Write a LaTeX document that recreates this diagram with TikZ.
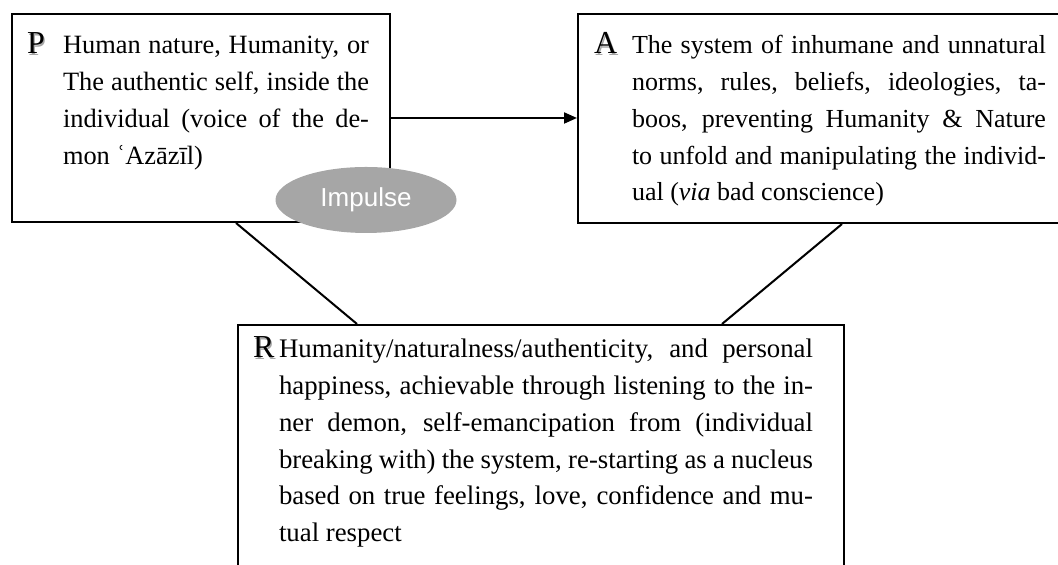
\documentclass[tikz,border=0pt]{standalone}
\usepackage{fontspec}
\setmainfont{Liberation Serif}
\setsansfont{Liberation Sans}
\usetikzlibrary{arrows.meta,shapes.geometric}
\definecolor{impulsegray}{RGB}{166,166,166}
\definecolor{shadowgray}{RGB}{165,165,165}
\tolerance=10000

% big initial with a soft drop shadow
\newcommand\boxinitial[1]{{\fontsize{16pt}{16pt}\selectfont\rlap{\kern0.7pt\lower0.7pt\hbox{\color{shadowgray}#1}}#1}}
% #1 initial, #2 indent of the body, #3 right gap, #4 body
\newcommand\lettered[4]{\hangindent=#2\hangafter=0\rightskip=#3\relax\noindent\llap{\makebox[#2][l]{\boxinitial{#1}}}#4\par}

\begin{document}
\begin{tikzpicture}[x=1pt,y=1pt,line width=1pt,
  textbox/.style={draw,rectangle,anchor=north west,align=justify,inner xsep=#1,inner ysep=0pt},
  bodyfont/.style={font=\fontsize{#1}{18.35pt}\selectfont}]
  \useasboundingbox (0,0) rectangle (529,282.5);
  %\draw[red] (0,0) rectangle (529,282.5);
  \node[textbox=7.5pt,text width=174pt,text height=20pt,text depth=84pt,bodyfont=13.2pt] (P) at (5.5,276)
    {\lettered{P}{18pt}{3pt}{Human nature, Humanity, or\linebreak The authentic self, inside the\linebreak individual (voice of the de-\linebreak mon ʿAzāzīl)}};
  \node[textbox=8pt,text width=230pt,text height=20pt,text depth=84.5pt,bodyfont=13pt] (A) at (288.5,276)
    {\lettered{A}{19pt}{4pt}{The system of inhumane and unnatural\linebreak norms, rules, beliefs, ideologies, ta-\linebreak boos, preventing Humanity \& Nature\linebreak to unfold and manipulating the individ-\linebreak ual (\textit{via} bad conscience)}};
  \node[textbox=7.5pt,text width=288pt,text height=16.5pt,text depth=110pt,bodyfont=13.4pt] (R) at (118.5,120.5)
    {\lettered{R}{13pt}{8pt}{Humanity/naturalness/authenticity, and personal\linebreak happiness, achievable through listening to the in-\linebreak ner demon, self-emancipation from (individual\linebreak breaking with) the system, re-starting as a nucleus\linebreak based on true feelings, love, confidence and mu-\linebreak tual respect}};
  \node[ellipse,fill=impulsegray,minimum width=90.5pt,minimum height=33pt,inner sep=0pt,
    text=white,font=\sffamily\fontsize{13pt}{13pt}\selectfont] (impulse) at (183,182.5) {Impulse};
  \draw[-{Triangle[length=6.5pt,width=5.5pt]}] (P.east) -- (P.east -| A.west);
  \draw ([xshift=112.5pt]P.south west) -- ([xshift=60pt]R.north west);
  \draw ([xshift=132.5pt]A.south west) -- ([xshift=-61.5pt]R.north east);
\end{tikzpicture}
\end{document}
